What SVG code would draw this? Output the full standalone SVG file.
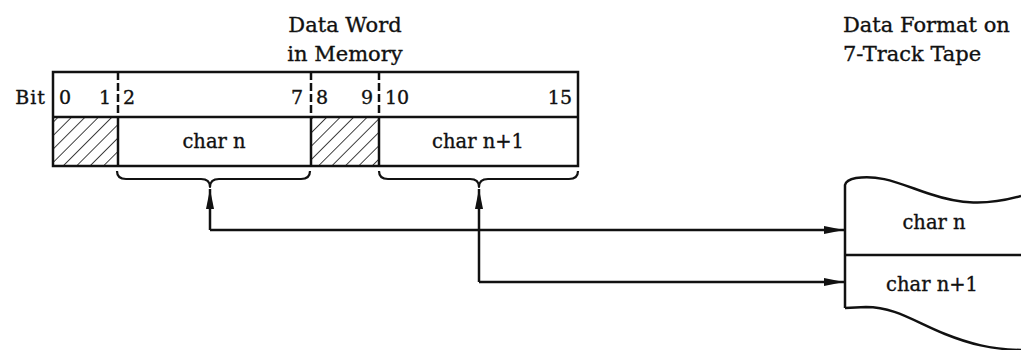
<svg xmlns="http://www.w3.org/2000/svg" width="1021" height="350" viewBox="0 0 1021 350">
  <style>
    .t { font-family: "DejaVu Serif", "Liberation Serif", serif; fill: #111; stroke: #111; stroke-width: 0.35; }
    .title { font-size: 21px; }
    .bit { font-size: 19px; }
    .lbl { font-size: 19.5px; text-anchor: middle; }
    .frame { fill: none; stroke: #111; stroke-width: 2.5; }
    .dash { fill: none; stroke: #111; stroke-width: 2.5; stroke-dasharray: 8 3; }
    .brace { fill: none; stroke: #111; stroke-width: 2.2; stroke-linejoin: round; }
    .wire { fill: none; stroke: #111; stroke-width: 2.5; }
  </style>
  <defs>
    <pattern id="hatch" patternUnits="userSpaceOnUse" width="9.5" height="9.5" patternTransform="rotate(45)">
      <line x1="0" y1="0" x2="0" y2="9.5" stroke="#111" stroke-width="1.6"/>
    </pattern>
    <marker id="head" viewBox="0 0 20 8" refX="20" refY="4" markerWidth="20" markerHeight="8" markerUnits="userSpaceOnUse" orient="auto">
      <path d="M0,0 L20,4 L0,8 Z" fill="#111"/>
    </marker>
  </defs>

  <!-- headings -->
  <g id="heading-memory">
    <text class="t title" x="345" y="32" text-anchor="middle">Data Word</text>
    <text class="t title" x="345" y="61" text-anchor="middle">in Memory</text>
  </g>
  <g id="heading-tape">
    <text class="t title" x="843" y="32">Data Format on</text>
    <text class="t title" x="843" y="61">7-Track Tape</text>
  </g>

  <!-- 16-bit memory word -->
  <g id="memory-word">
    <text class="t bit" x="46" y="104" text-anchor="end" font-size="20" letter-spacing="1">Bit</text>
    <rect x="53" y="117" width="65" height="49" fill="url(#hatch)"/>
    <rect x="311" y="117" width="68" height="49" fill="url(#hatch)"/>
    <rect class="frame" x="53" y="72" width="525" height="94"/>
    <line class="frame" x1="53" y1="117" x2="578" y2="117"/>
    <line class="dash" x1="118" y1="72" x2="118" y2="117"/>
    <line class="dash" x1="311" y1="72" x2="311" y2="117"/>
    <line class="dash" x1="379" y1="72" x2="379" y2="117"/>
    <line class="frame" x1="118" y1="117" x2="118" y2="166"/>
    <line class="frame" x1="311" y1="117" x2="311" y2="166"/>
    <line class="frame" x1="379" y1="117" x2="379" y2="166"/>
    <text class="t bit" x="59" y="104">0</text>
    <text class="t bit" x="111" y="104" text-anchor="end">1</text>
    <text class="t bit" x="123" y="104">2</text>
    <text class="t bit" x="303" y="104" text-anchor="end">7</text>
    <text class="t bit" x="316" y="104">8</text>
    <text class="t bit" x="373" y="104" text-anchor="end">9</text>
    <text class="t bit" x="385" y="104">10</text>
    <text class="t bit" x="572" y="104" text-anchor="end">15</text>
    <text class="t lbl" x="214" y="148">char n</text>
    <text class="t lbl" x="478" y="148">char n+1</text>
  </g>

  <!-- braces under the character fields -->
  <g id="brace-char-n">
    <path class="brace" d="M117,171 Q117,179 126,179 L201,179 Q210,179 210,187 Q210,179 219,179 L301,179 Q310,179 310,171"/>
  </g>
  <g id="brace-char-n1">
    <path class="brace" d="M379,171 Q379,179 388,179 L470,179 Q479,179 479,187 Q479,179 488,179 L569,179 Q578,179 578,171"/>
  </g>

  <!-- tape frame with torn edges -->
  <g id="tape">
    <path class="frame" d="M845,308 L845,185 Q846,180 856,178 C880,174 900,184 930,194 C960,204 985,206 1021,196"/>
    <line class="frame" x1="845" y1="255" x2="1021" y2="255"/>
    <path class="frame" d="M845,308 L866,307 C895,307 915,322 945,334 C970,344 990,349 1021,350"/>
    <text class="t lbl" x="934" y="229">char n</text>
    <text class="t lbl" x="932" y="291">char n+1</text>
  </g>

  <!-- transfer paths -->
  <g id="connectors">
    <path class="wire" d="M210,230 L210,189" marker-end="url(#head)"/>
    <path class="wire" d="M210,230 L844,230" marker-end="url(#head)"/>
    <path class="wire" d="M479,282 L479,189" marker-end="url(#head)"/>
    <path class="wire" d="M479,282 L844,282" marker-end="url(#head)"/>
  </g>
</svg>
